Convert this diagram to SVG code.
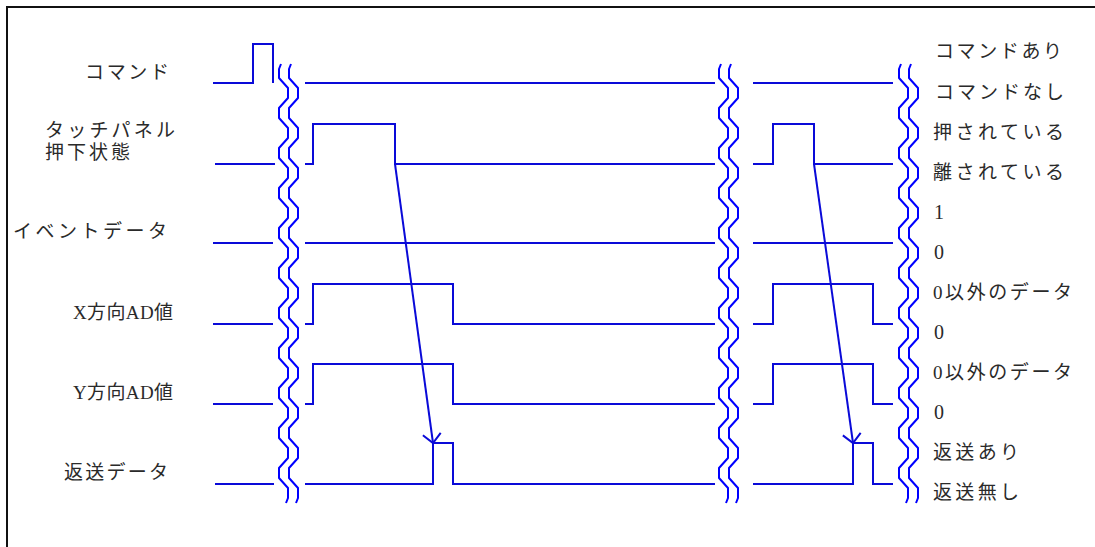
<svg xmlns="http://www.w3.org/2000/svg" xmlns:xlink="http://www.w3.org/1999/xlink" width="1095" height="547" viewBox="0 0 1095 547">
<style>
.frame{fill:none;stroke:#111;stroke-width:2}
.sig{fill:none;stroke:#0a0ad8;stroke-width:2;stroke-linejoin:miter}
.wave{fill:none;stroke:#0000ff;stroke-width:2;stroke-linejoin:round}
.arr{fill:none;stroke:#0a0ad8;stroke-width:2}
.t{font-family:"Liberation Serif","Noto Sans CJK JP",serif;font-size:19px;fill:#2a2a2a}
.d{font-size:20px}
</style>
<defs>
<path id="wv" d="M2 64 l-2 5 v9
 l9 10 v10 l-9 10 v10
 l9 10 v10 l-9 10 v10
 l9 10 v10 l-9 10 v10
 l9 10 v10 l-9 10 v10
 l9 10 v10 l-9 10 v10
 l9 10 v10 l-9 10 v10
 l9 10 v10 l-9 10 v10
 l9 10 v10 l-9 10 v10
 l9 10 v10 l-9 10 v10
 l9 10 v10 l-9 10 v10
 l9 10 v10 l-2 5"/>
<marker id="ah" markerUnits="userSpaceOnUse" markerWidth="24" markerHeight="24" refX="0" refY="0" viewBox="-12 -12 24 24" orient="auto" overflow="visible">
<path d="M-9,-9 L0,0 L-9,9" fill="none" stroke="#0a0ad8" stroke-width="2"/>
</marker>
</defs>
<rect width="1095" height="547" fill="#fff"/>
<path class="frame" d="M7 547 V7 H1095"/>

<g id="breaks" class="wave">
<use xlink:href="#wv" x="279"/>
<use xlink:href="#wv" x="289"/>
<use xlink:href="#wv" x="719"/>
<use xlink:href="#wv" x="729"/>
<use xlink:href="#wv" x="899"/>
<use xlink:href="#wv" x="909"/>
</g>

<g id="sig-command" class="sig">
<path d="M213 83 H253 V44 H273 V83"/>
<path d="M305 83 H715"/>
<path d="M753 83 H893"/>
</g>
<g id="sig-touch" class="sig">
<path d="M215 164 H275"/>
<path d="M305 164 H313 V124 H395 V164 H715"/>
<path d="M753 164 H773 V124 H814 V164 H893"/>
</g>
<g id="sig-event" class="sig">
<path d="M213 243 H273"/>
<path d="M305 243 H715"/>
<path d="M753 243 H893"/>
</g>
<g id="sig-x" class="sig">
<path d="M213 324 H273"/>
<path d="M305 324 H313 V284 H453 V324 H715"/>
<path d="M753 324 H773 V284 H873 V324 H893"/>
</g>
<g id="sig-y" class="sig">
<path d="M213 404 H273"/>
<path d="M305 404 H313 V364 H453 V404 H715"/>
<path d="M753 404 H773 V364 H873 V404 H893"/>
</g>
<g id="sig-return" class="sig">
<path d="M215 484 H274"/>
<path d="M305 484 H433 V443 H453 V484 H715"/>
<path d="M753 484 H853 V443 H873 V484 H893"/>
</g>

<g id="connectors" class="arr">
<path d="M395 164 L433 443" marker-end="url(#ah)"/>
<path d="M814 164 L853 443" marker-end="url(#ah)"/>
</g>

<g id="labels-left" class="t">
<text x="85" y="79" textLength="84" lengthAdjust="spacing">コマンド</text>
<text x="45" y="137" textLength="130" lengthAdjust="spacing">タッチパネル</text>
<text x="45" y="159" textLength="85" lengthAdjust="spacing">押下状態</text>
<text x="13" y="238" textLength="154" lengthAdjust="spacing">イベントデータ</text>
<text x="73" y="319" textLength="100" lengthAdjust="spacing">X方向AD値</text>
<text x="73" y="399" textLength="100" lengthAdjust="spacing">Y方向AD値</text>
<text x="64" y="479" textLength="104" lengthAdjust="spacing">返送データ</text>
</g>

<g id="labels-right" class="t">
<text x="935" y="58" textLength="127" lengthAdjust="spacing">コマンドあり</text>
<text x="935" y="99" textLength="129" lengthAdjust="spacing">コマンドなし</text>
<text x="933" y="139" textLength="131" lengthAdjust="spacing">押されている</text>
<text x="933" y="179" textLength="131" lengthAdjust="spacing">離されている</text>
<text class="d" x="934" y="219">1</text>
<text class="d" x="934" y="259">0</text>
<text x="933" y="299" textLength="139" lengthAdjust="spacing">0以外のデータ</text>
<text class="d" x="934" y="339">0</text>
<text x="933" y="379" textLength="139" lengthAdjust="spacing">0以外のデータ</text>
<text class="d" x="934" y="419">0</text>
<text x="933" y="459" textLength="86" lengthAdjust="spacing">返送あり</text>
<text x="933" y="499" textLength="86" lengthAdjust="spacing">返送無し</text>
</g>
</svg>
